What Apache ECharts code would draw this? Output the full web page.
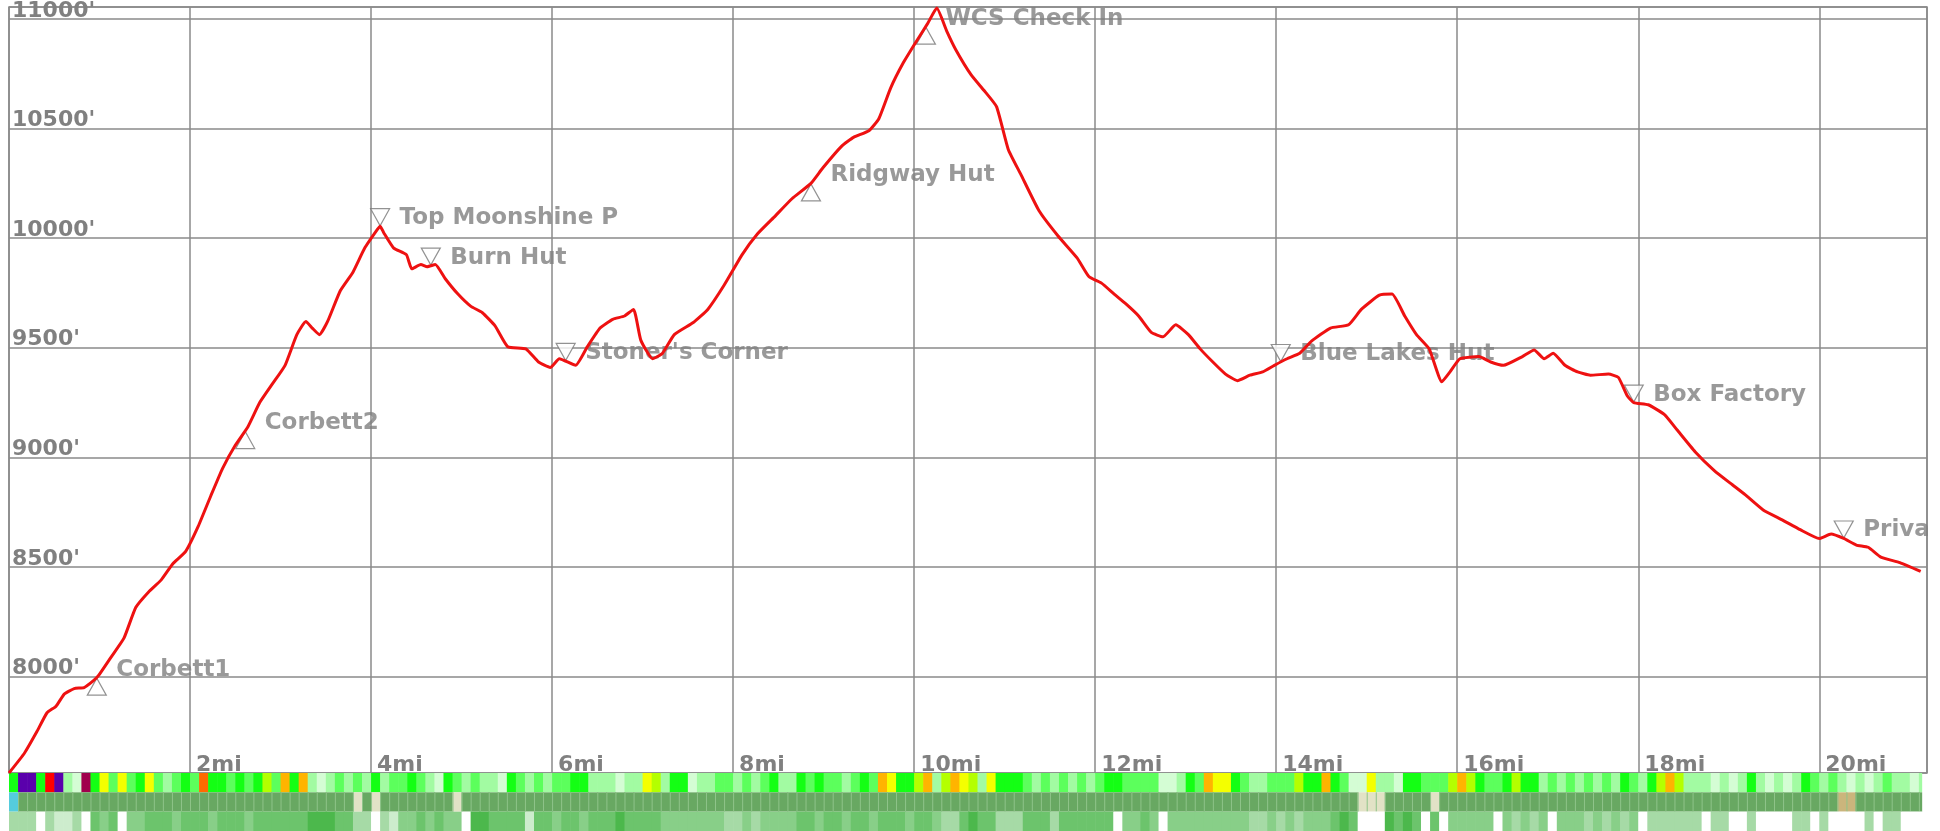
<!DOCTYPE html>
<html>
<head>
<meta charset="utf-8">
<script src="https://cdn.jsdelivr.net/npm/echarts@6.0.0/dist/echarts.min.js"></script>
<style>
  html, body { margin: 0; padding: 0; background: #fff; }
  #chart { width: 1928px; height: 831px; }
</style>
</head>
<body>
<div id="chart"></div>
<script>
// elevation profile: [mile, feet]
var profile = [
    [0, 7560], [0.17, 7650], [0.31, 7750], [0.42, 7835], [0.52, 7865], [0.61, 7920], [0.72, 7945],
    [0.83, 7950], [0.93, 7980], [0.99, 8005], [1.13, 8090], [1.27, 8175], [1.40, 8315], [1.54, 8385],
    [1.68, 8440], [1.81, 8515], [1.95, 8570], [2.09, 8685], [2.23, 8825], [2.36, 8950], [2.50, 9055],
    [2.64, 9140], [2.77, 9250], [2.91, 9335], [3.05, 9420], [3.18, 9560], [3.28, 9620], [3.35, 9590],
    [3.43, 9560], [3.52, 9620], [3.66, 9760], [3.80, 9845], [3.93, 9955], [4.07, 10040], [4.10, 10055],
    [4.14, 10025], [4.25, 9955], [4.39, 9925], [4.45, 9860], [4.55, 9880], [4.62, 9870], [4.71, 9880],
    [4.82, 9815], [4.96, 9745], [5.10, 9690], [5.23, 9660], [5.37, 9600], [5.51, 9505], [5.71, 9495],
    [5.85, 9435], [5.98, 9410], [6.08, 9450], [6.26, 9420], [6.39, 9505], [6.53, 9590], [6.67, 9630],
    [6.80, 9645], [6.90, 9675], [6.98, 9535], [7.11, 9450], [7.22, 9475], [7.35, 9560], [7.56, 9615],
    [7.72, 9675], [7.90, 9785], [8.10, 9925], [8.27, 10020], [8.45, 10095], [8.65, 10180], [8.86, 10250],
    [8.99, 10320], [9.20, 10420], [9.33, 10460], [9.50, 10490], [9.61, 10545], [9.74, 10685], [9.88, 10800],
    [10.02, 10895], [10.15, 10980], [10.25, 11050], [10.36, 10945], [10.46, 10860], [10.63, 10745],
    [10.77, 10675], [10.91, 10600], [11.04, 10405], [11.18, 10290], [11.38, 10125], [11.59, 10010],
    [11.80, 9910], [11.93, 9825], [12.07, 9795], [12.21, 9745], [12.34, 9700], [12.48, 9645], [12.62, 9570],
    [12.75, 9550], [12.89, 9605], [13.03, 9560], [13.16, 9495], [13.30, 9435], [13.44, 9380], [13.57, 9350],
    [13.71, 9375], [13.85, 9390], [13.98, 9420], [14.12, 9450], [14.26, 9475], [14.39, 9530], [14.60, 9590],
    [14.80, 9605], [14.94, 9675], [15.14, 9740], [15.28, 9745], [15.42, 9645], [15.55, 9560], [15.69, 9495],
    [15.83, 9345], [15.92, 9390], [16.03, 9450], [16.24, 9460], [16.37, 9435], [16.51, 9420], [16.72, 9460],
    [16.85, 9490], [16.96, 9450], [17.06, 9475], [17.19, 9420], [17.33, 9390], [17.47, 9375], [17.67, 9380],
    [17.78, 9365], [17.88, 9280], [17.95, 9250], [18.11, 9240], [18.29, 9195], [18.43, 9125], [18.63, 9025],
    [18.84, 8940], [19.04, 8875], [19.18, 8830], [19.38, 8760], [19.59, 8715], [19.79, 8670], [20.00, 8630],
    [20.13, 8650], [20.27, 8630], [20.41, 8600], [20.54, 8590], [20.68, 8545], [20.89, 8520], [21.12, 8480]
];

// waypoints
var wpNames = ['Corbett1', 'Corbett2', 'Top Moonshine P', 'Burn Hut', "Stoner's Corner",
    'Ridgway Hut', 'WCS Check In', 'Blue Lakes Hut', 'Box Factory', 'Private'];
var wpMiles = [0.97, 2.61, 4.10, 4.66, 6.15, 8.86, 10.13, 14.05, 17.95, 20.27];
var wpElev = [7995, 9120, 10055, 9875, 9440, 10250, 10965, 9435, 9250, 8630];
var wpDir = ['up', 'up', 'down', 'down', 'down', 'up', 'up', 'down', 'down', 'down'];

// strips under the profile, one code per 0.1 mi
var cellMi = 0.1;
var trackEnd = 21.13;
var grade = [
    3,9,9,3,8,9,1,0,10,3, 5,2,5,2,3,5,2,1,2,3, 2,7,3,3,2,3,2,3,4,2, 6,3,6,1,0,1,2,1,2,1,
    3,1,2,2,3,2,1,0,3,2, 1,2,1,1,0,3,2,1,2,1, 2,2,3,3,1,1,1,0,1,1, 5,4,1,3,3,0,1,1,2,2,
    1,2,1,2,3,1,1,3,2,3, 2,2,1,2,3,2,6,5,3,3, 4,6,1,4,6,5,4,1,5,3, 3,3,2,1,2,1,2,1,2,1,
    2,3,3,2,2,2,2,0,0,1, 3,2,6,5,5,3,2,1,1,2, 2,2,4,3,3,6,3,2,0,0, 5,1,1,0,3,3,2,2,2,4,
    6,4,3,2,2,3,4,3,3,1, 2,1,2,1,2,1,2,1,3,2, 1,3,4,6,4,1,1,1,0,1, 0,1,3,1,0,1,0,1,3,2,
    1,2,1,0,1,0,1,2,1,1, 0,1
];
var cover = [
    3,0,0,0,0,0,0,0,0,0, 0,0,0,0,0,0,0,0,0,0, 0,0,0,0,0,0,0,0,0,0, 0,0,0,0,0,0,0,0,1,0,
    1,0,0,0,0,0,0,0,0,1, 0,0,0,0,0,0,0,0,0,0, 0,0,0,0,0,0,0,0,0,0, 0,0,0,0,0,0,0,0,0,0,
    0,0,0,0,0,0,0,0,0,0, 0,0,0,0,0,0,0,0,0,0, 0,0,0,0,0,0,0,0,0,0, 0,0,0,0,0,0,0,0,0,0,
    0,0,0,0,0,0,0,0,0,0, 0,0,0,0,0,0,0,0,0,0, 0,0,0,0,0,0,0,0,0,1, 1,1,0,0,0,0,0,1,0,0,
    0,0,0,0,0,0,0,0,0,0, 0,0,0,0,0,0,0,0,0,0, 0,0,0,0,0,0,0,0,0,0, 0,0,0,0,0,0,0,0,0,0,
    0,0,2,2,0,0,0,0,0,0, 0,0
];
var canopy = [
    2,2,2,0,2,1,1,2,0,4, 3,4,0,3,3,4,4,4,3,4, 4,4,3,4,4,4,3,4,4,4, 4,4,4,5,5,5,4,4,2,2,
    0,2,1,3,3,4,3,4,3,3, 0,5,5,4,4,4,4,1,4,4, 3,4,4,3,4,4,4,5,4,4, 4,4,3,3,3,3,3,3,3,2,
    2,3,2,3,3,3,3,4,4,3, 4,4,3,4,4,3,4,4,4,3, 4,4,3,2,2,4,5,4,4,2, 2,2,4,4,4,2,4,4,4,4,
    4,4,0,3,3,4,3,0,3,3, 3,3,3,3,3,3,3,2,2,3, 2,3,2,3,3,3,4,5,4,0, 0,0,5,4,5,4,0,4,0,3,
    3,3,3,3,0,3,2,3,2,3, 0,3,3,3,2,3,2,3,2,3, 0,2,2,2,2,2,2,0,2,2, 0,0,2,0,0,0,0,2,2,0,
    2,0,0,0,0,2,0,2,2,0, 0,0
];

var gradeColors = ['#d4fdd4', '#a2fba2', '#5cff5c', '#14ff14', '#b4ff00', '#f4ff00',
    '#ffb400', '#ff6a00', '#ff0000', '#5a00ac', '#a0004c'];
var coverColors = ['#68a862', '#e2e2c6', '#cbb57c', '#55ccdd'];
var canopyColors = ['#ffffff', '#cdeccd', '#a6daa6', '#88cf88', '#6cc46c', '#4cb84c'];

var labelFont = { fontFamily: 'DejaVu Sans', fontWeight: 'bold', fontSize: 22, color: '#808080' };

function strip(codes, row, colors, sep) {
    return {
        type: 'custom',
        xAxisIndex: 1,
        yAxisIndex: 1,
        silent: true,
        clip: false,
        data: codes.map(function (c, i) {
            return [i * cellMi, Math.min((i + 1) * cellMi, trackEnd), row, c];
        }),
        encode: { x: [0, 1], y: 2 },
        renderItem: function (params, api) {
            var p0 = api.coord([api.value(0), api.value(2)]);
            var p1 = api.coord([api.value(1), api.value(2) + 1]);
            var rect = {
                type: 'rect',
                shape: { x: p0[0], y: p0[1], width: p1[0] - p0[0] + 0.6, height: p1[1] - p0[1] },
                style: { fill: colors[api.value(3)] }
            };
            if (!sep || params.dataIndex === 0) return rect;
            return {
                type: 'group',
                children: [rect, {
                    type: 'line',
                    shape: { x1: p0[0] + 0.5, y1: p0[1], x2: p0[0] + 0.5, y2: p1[1] },
                    style: { stroke: sep, lineWidth: 1 }
                }]
            };
        }
    };
}

var option = {
    animation: false,
    backgroundColor: '#fff',
    grid: [
        { left: 9, right: 1, top: 6, height: 767, show: true, borderColor: '#888', borderWidth: 1.5 },
        { left: 9, right: 1, top: 773, height: 58 }
    ],
    xAxis: [{
        type: 'value',
        gridIndex: 0,
        min: 0,
        max: 21.19,
        interval: 2,
        axisLine: { show: false },
        axisTick: { show: false },
        axisLabel: Object.assign({
            inside: true,
            formatter: function (v) { return v + 'mi'; },
            align: 'left',
            verticalAlign: 'bottom',
            lineHeight: 18,
            margin: -1,
            padding: [0, 0, 0, 6],
            showMinLabel: false,
            showMaxLabel: false
        }, labelFont),
        splitLine: { show: true, lineStyle: { color: '#8a8a8a', width: 1.5 } }
    }, {
        type: 'value',
        gridIndex: 1,
        min: 0,
        max: 21.19,
        show: false
    }],
    yAxis: [{
        type: 'value',
        gridIndex: 0,
        min: 7560,
        max: 11055,
        splitNumber: 7,
        axisLine: { show: false },
        axisTick: { show: false },
        axisLabel: Object.assign({
            inside: true,
            formatter: function (v) { return v + "'"; },
            align: 'left',
            verticalAlign: 'bottom',
            lineHeight: 16,
            margin: 3,
            showMinLabel: false,
            showMaxLabel: false
        }, labelFont),
        splitLine: { show: true, lineStyle: { color: '#8a8a8a', width: 1.5 } }
    }, {
        type: 'value',
        gridIndex: 1,
        min: 0,
        max: 3,
        inverse: true,
        show: false
    }],
    series: [
        {
            name: 'waypoint labels',
            type: 'scatter',
            z: 2,
            symbolSize: 1,
            itemStyle: { color: 'rgba(0,0,0,0)' },
            data: wpNames.map(function (n, i) { return [wpMiles[i], wpElev[i], n]; }),
            label: Object.assign({
                show: true,
                position: 'right',
                distance: 19,
                offset: [0, -8],
                formatter: function (p) { return p.data[2]; }
            }, labelFont, { fontSize: 23 })
        },
        {
            name: 'waypoints',
            type: 'scatter',
            z: 3,
            symbol: 'triangle',
            symbolSize: [19, 17],
            itemStyle: { color: '#fff', borderColor: '#777', borderWidth: 1.2 },
            data: wpNames.map(function (n, i) {
                var down = wpDir[i] === 'down';
                return {
                    name: n,
                    value: [wpMiles[i], wpElev[i]],
                    symbolRotate: down ? 180 : 0,
                    symbolOffset: [0, down ? -9 : 9]
                };
            })
        },
        {
            name: 'elevation',
            type: 'line',
            z: 5,
            showSymbol: false,
            smooth: 0.15,
            lineStyle: { color: '#ee1111', width: 3 },
            data: profile
        },
        strip(grade, 0, gradeColors),
        strip(cover, 1, coverColors, '#8fc48a'),
        strip(canopy, 2, canopyColors)
    ]
};

echarts.init(document.getElementById('chart')).setOption(option);
</script>
</body>
</html>
